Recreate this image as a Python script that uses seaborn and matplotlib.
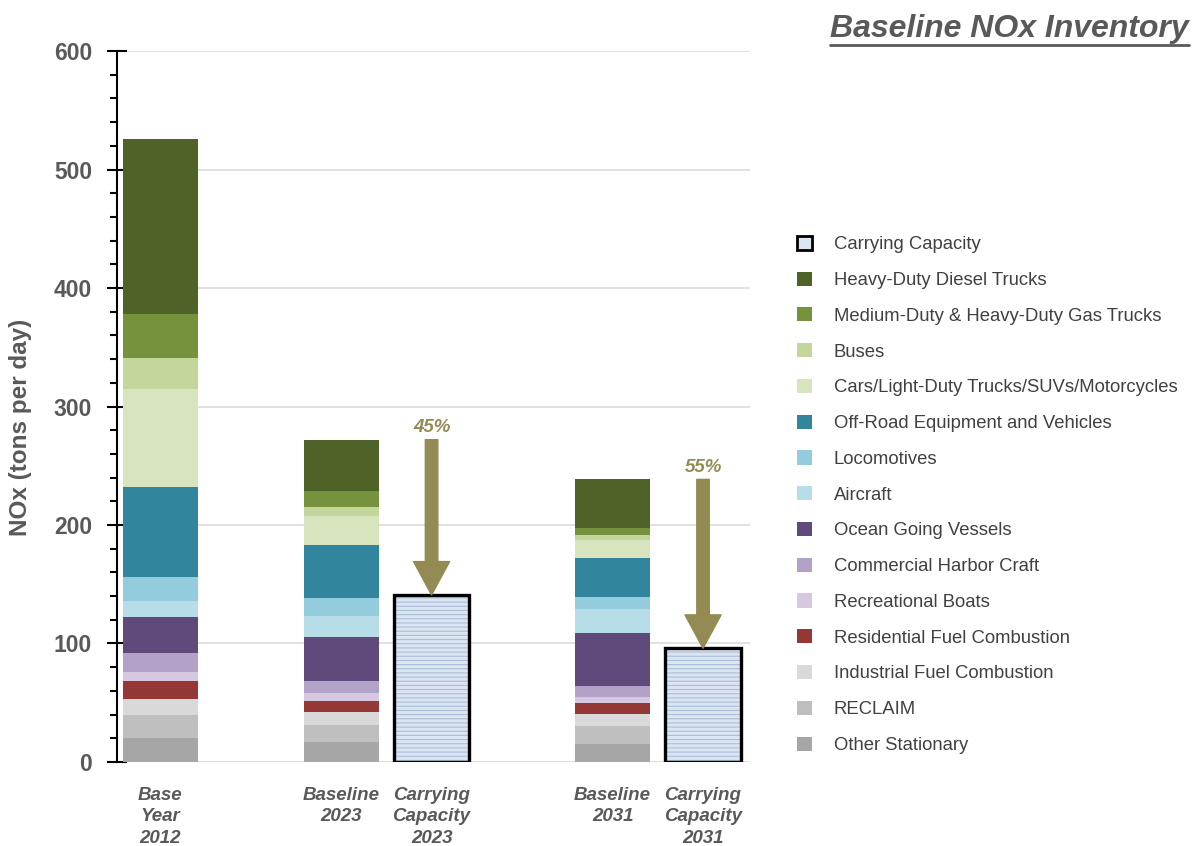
import numpy as np
import pandas as pd
import matplotlib.pyplot as plt
import seaborn as sns
from matplotlib.patches import Patch
from matplotlib.lines import Line2D
from matplotlib.ticker import MultipleLocator

# ---------- data (tons per day), stacked bottom -> top ----------
sources = [
    "Other Stationary",
    "RECLAIM",
    "Industrial Fuel Combustion",
    "Residential Fuel Combustion",
    "Recreational Boats",
    "Commercial Harbor Craft",
    "Ocean Going Vessels",
    "Aircraft",
    "Locomotives",
    "Off-Road Equipment and Vehicles",
    "Cars/Light-Duty Trucks/SUVs/Motorcycles",
    "Buses",
    "Medium-Duty & Heavy-Duty Gas Trucks",
    "Heavy-Duty Diesel Trucks",
]
colors = [
    "#a6a6a6", "#bfbfbf", "#d9d9d9", "#953735", "#d5c8e0", "#b3a2c7",
    "#604a7b", "#b7dee8", "#93cddd", "#31859c", "#d7e4bd", "#c3d69b",
    "#76923c", "#4f6228",
]

periods = ["Base\nYear\n2012", "Baseline\n2023", "Baseline\n2031"]
base_2012 = [20, 19.5, 14, 14.5, 8, 16, 30, 14, 20, 76, 83, 26, 37, 148]
baseline_2023 = [16.5, 14.5, 11, 9.5, 7, 10, 37, 17.5, 15, 45.5, 24, 7.5, 14, 43]
baseline_2031 = [15.5, 14.5, 10.5, 9.5, 5, 9.5, 44, 20.5, 10.5, 33, 15, 4, 6, 41]

cc_periods = ["Carrying\nCapacity\n2023", "Carrying\nCapacity\n2031"]
carrying_capacity = [141, 96]
reduction_labels = ["45%", "55%"]

# category order with blank spacer slots
order = [periods[0], " ", periods[1], cc_periods[0], "  ", periods[2], cc_periods[1]]

sns.set_style("white")
plt.rcParams["font.family"] = ["Liberation Sans", "DejaVu Sans"]
plt.rcParams["hatch.linewidth"] = 0.8

grey = "#595959"
olive = "#948a54"
cc_face = "#dce6f2"
cc_hatch = "#a9bdd6"

rows = []
for period, vals in zip(periods, [base_2012, baseline_2023, baseline_2031]):
    tops = np.cumsum(vals)
    for s, v, t in zip(sources, vals, tops):
        rows.append({"period": period, "source": s, "value": v, "top": t})
df = pd.DataFrame(rows)
cc_df = pd.DataFrame({"period": cc_periods, "value": carrying_capacity})

fig = plt.figure(figsize=(11.95, 8.46), dpi=100)
ax = fig.add_axes([0.098, 0.0993, 0.5297, 0.8404])

# stacked bars: draw cumulative tops, highest layer first
for s, c in reversed(list(zip(sources, colors))):
    sns.barplot(data=df[df["source"] == s], x="period", y="top", order=order,
                color=c, saturation=1, width=0.83, errorbar=None,
                linewidth=0, ax=ax)

# carrying capacity bars
sns.barplot(data=cc_df, x="period", y="value", order=order, color=cc_face,
            saturation=1, width=0.83, errorbar=None, hatch="----",
            edgecolor=cc_hatch, linewidth=0, ax=ax)
sns.barplot(data=cc_df, x="period", y="value", order=order, color="black",
            fill=False, width=0.83, errorbar=None, linewidth=2.4, ax=ax)

# reduction arrows
totals = [sum(baseline_2023), sum(baseline_2031)]
for name, tot, cc, lab in zip(cc_periods, totals, carrying_capacity, reduction_labels):
    x = order.index(name)
    ax.annotate("", xy=(x, cc), xytext=(x, tot),
                arrowprops=dict(arrowstyle="simple,head_length=1.2,head_width=1.3,tail_width=0.45",
                                color=olive, shrinkA=0, shrinkB=0, mutation_scale=20))
    ax.text(x, tot + 3, lab, ha="center", va="bottom", fontsize=13.5,
            fontweight="bold", fontstyle="italic", color=olive)

# axes styling
ax.set_xlim(-0.475, 6.52)
ax.set_ylim(0, 600)
ax.yaxis.set_major_locator(MultipleLocator(100))
ax.yaxis.set_minor_locator(MultipleLocator(20))
ax.set_axisbelow(True)
ax.yaxis.grid(True, color="#d9d9d9", linewidth=1.1)
for side in ["top", "right", "bottom"]:
    ax.spines[side].set_visible(False)
ax.spines["left"].set_color("black")
ax.spines["left"].set_linewidth(1.5)
ax.tick_params(axis="y", which="both", left=True)
ax.tick_params(axis="y", which="major", direction="inout", length=14, width=1.5,
               color="black", labelsize=16.5, labelcolor=grey, pad=11)
ax.tick_params(axis="y", which="minor", direction="out", length=5, width=1.5,
               color="black")
for t in ax.get_yticklabels():
    t.set_fontweight("bold")

ax.set_xticks(range(len(order)))
ax.set_xticklabels([o if o.strip() else "" for o in order], fontsize=13.5,
                   fontweight="bold", fontstyle="italic", color=grey,
                   linespacing=1.34)
ax.tick_params(axis="x", length=0, pad=18)
ax.set_xlabel("")
ax.set_ylabel("NOx (tons per day)", fontsize=17.5, fontweight="bold", color=grey)
ax.yaxis.set_label_coords(-0.135, 0.47)

# legend
handles = [Patch(facecolor=cc_face, edgecolor="black", linewidth=2,
                 label="Carrying Capacity")]
for s, c in reversed(list(zip(sources, colors))):
    handles.append(Patch(facecolor=c, edgecolor="none", label=s))
leg = fig.legend(handles=handles, loc="upper left",
                 bbox_to_anchor=(0.653, 0.741), frameon=False,
                 fontsize=13.3, handlelength=0.8, handleheight=0.8,
                 handletextpad=1.2, labelspacing=0.99)
for t in leg.get_texts():
    t.set_color("#404040")

# title (underlined)
title = fig.text(0.995, 0.966, "Baseline NOx Inventory", ha="right",
                 va="center", fontsize=23, fontweight="bold",
                 fontstyle="italic", color=grey)
fig.canvas.draw()
bb = title.get_window_extent().transformed(fig.transFigure.inverted())
fig.add_artist(Line2D([bb.x0, bb.x1], [bb.y0 - 0.002, bb.y0 - 0.002],
                      transform=fig.transFigure, color=grey, linewidth=2))

plt.savefig("out.png", dpi=100)
